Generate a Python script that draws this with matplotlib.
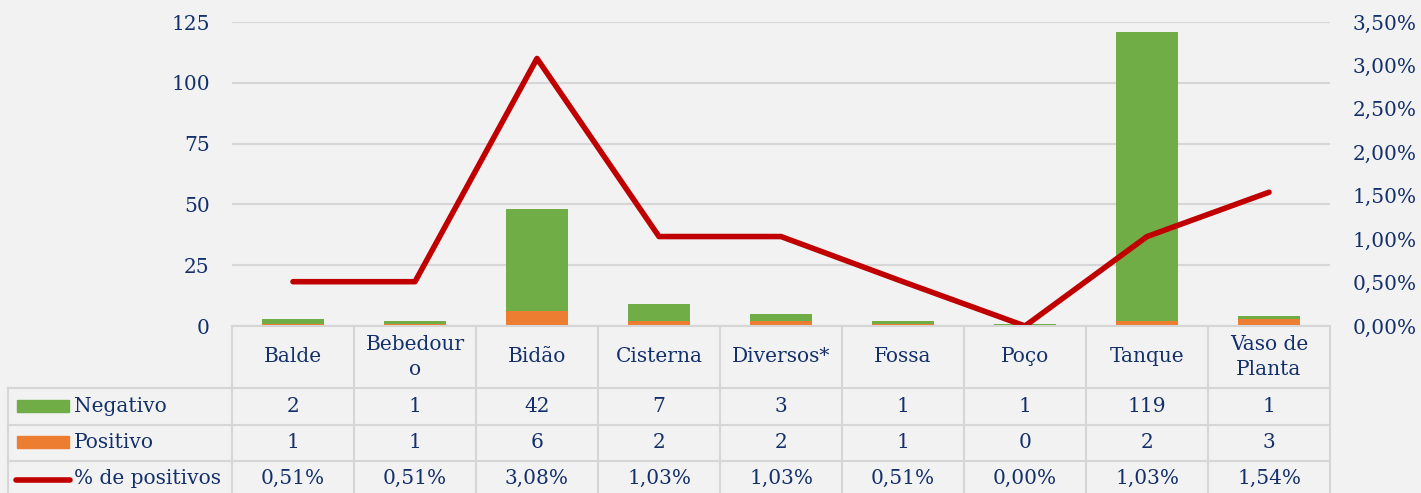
import matplotlib
matplotlib.use("Agg")
import matplotlib.pyplot as plt
from matplotlib.lines import Line2D
from matplotlib.patches import Rectangle

categories = ["Balde", "Bebedour\no", "Bidão", "Cisterna", "Diversos*", "Fossa", "Poço", "Tanque", "Vaso de\nPlanta"]
negativo = [2, 1, 42, 7, 3, 1, 1, 119, 1]
positivo = [1, 1, 6, 2, 2, 1, 0, 2, 3]
pct_positivos = [0.51, 0.51, 3.08, 1.03, 1.03, 0.51, 0.00, 1.03, 1.54]
left_ticks = [0, 25, 50, 75, 100, 125]
right_ticks = [0, 0.5, 1.0, 1.5, 2.0, 2.5, 3.0, 3.5]

W, H = 1421, 493
BG = "#f2f2f2"
GREEN = "#70ad47"
ORANGE = "#ed7d31"
RED = "#c00000"
NAVY = "#13306b"
GRID = "#d6d6d6"
FONT = "DejaVu Serif"
FS = 14.5

fig = plt.figure(figsize=(W / 100, H / 100), dpi=100, facecolor=BG)

x0, x1, ytop, ybot = 232, 1330, 22, 326
ax = fig.add_axes([x0 / W, 1 - ybot / H, (x1 - x0) / W, (ybot - ytop) / H])
ax.set_facecolor(BG)
n = len(categories)
xs = list(range(n))
ax.bar(xs, positivo, width=0.51, color=ORANGE, zorder=2)
ax.bar(xs, negativo, bottom=positivo, width=0.51, color=GREEN, zorder=2)
ax.set_xlim(-0.5, n - 0.5)
ax.set_ylim(0, 125)
ax.set_yticks(left_ticks)
ax.yaxis.grid(True, color=GRID, linewidth=1.5, zorder=0)
ax.set_xticks([])
for s in ax.spines.values():
    s.set_visible(False)
ax.tick_params(axis="y", length=0, pad=16, labelsize=FS, labelcolor=NAVY)
for lbl in ax.get_yticklabels():
    lbl.set_fontfamily(FONT)

ax2 = ax.twinx()
ax2.plot(xs, pct_positivos, color=RED, linewidth=4, solid_capstyle="round", zorder=3)
ax2.set_ylim(0, 3.5)
ax2.set_yticks(right_ticks)
ax2.set_yticklabels([f"{v:.2f}%".replace(".", ",") for v in right_ticks])
for s in ax2.spines.values():
    s.set_visible(False)
ax2.tick_params(axis="y", length=0, pad=16, labelsize=FS, labelcolor=NAVY)
for lbl in ax2.get_yticklabels():
    lbl.set_fontfamily(FONT)

# Data table drawn in pixel coordinates
def fx(x):
    return x / W

def fy(y):
    return 1 - y / H

tf = fig.transFigure
colw = (x1 - x0) / n
rows_y = [326, 388, 425, 461, 500]
lw = 1.5

def hline(y, xa, xb):
    fig.add_artist(Line2D([fx(xa), fx(xb)], [fy(y), fy(y)], color=GRID, linewidth=lw, transform=tf))

def vline(x, ya, yb):
    fig.add_artist(Line2D([fx(x), fx(x)], [fy(ya), fy(yb)], color=GRID, linewidth=lw, transform=tf))

hline(326, x0, x1)
for y in rows_y[1:4]:
    hline(y, 8, x1)
for i in range(n + 1):
    vline(x0 + i * colw, 326, 500)
vline(8, 388, 500)

for i, c in enumerate(categories):
    cx = x0 + (i + 0.5) * colw
    fig.text(fx(cx), fy((326 + 388) / 2), c, ha="center", va="center", fontsize=FS,
             color=NAVY, family=FONT, linespacing=1.45)
    fig.text(fx(cx), fy((388 + 425) / 2), str(negativo[i]), ha="center", va="center",
             fontsize=FS, color=NAVY, family=FONT)
    fig.text(fx(cx), fy((425 + 461) / 2), str(positivo[i]), ha="center", va="center",
             fontsize=FS, color=NAVY, family=FONT)
    fig.text(fx(cx), fy(478), f"{pct_positivos[i]:.2f}%".replace(".", ","), ha="center",
             va="center", fontsize=FS, color=NAVY, family=FONT)

# Legend keys in table
fig.add_artist(Rectangle((fx(17), fy(412)), (69 - 17) / W, 12 / H, color=GREEN, transform=tf))
fig.add_artist(Rectangle((fx(17), fy(448)), (69 - 17) / W, 12 / H, color=ORANGE, transform=tf))
fig.add_artist(Line2D([fx(16), fx(70)], [fy(480), fy(480)], color=RED, linewidth=4,
                      solid_capstyle="round", transform=tf))
fig.text(fx(74), fy(406), "Negativo", ha="left", va="center", fontsize=FS, color=NAVY, family=FONT)
fig.text(fx(74), fy(442), "Positivo", ha="left", va="center", fontsize=FS, color=NAVY, family=FONT)
fig.text(fx(74), fy(478), "% de positivos", ha="left", va="center", fontsize=FS, color=NAVY, family=FONT)

fig.savefig("out.png", dpi=100, facecolor=BG)
